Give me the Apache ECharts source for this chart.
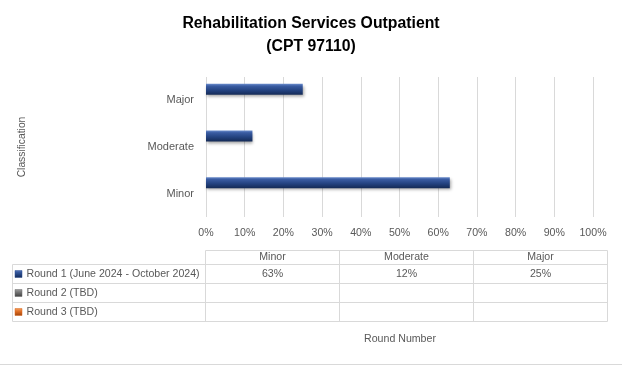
<!DOCTYPE html>
<html>
<head>
<meta charset="utf-8">
<script src="https://cdn.jsdelivr.net/npm/echarts@6/dist/echarts.min.js"></script>
<style>
html,body{margin:0;padding:0;background:#fff;}
#main{width:622px;height:365px;}
</style>
</head>
<body>
<div id="main"></div>
<script>
const titleLines = ['Rehabilitation Services Outpatient', '(CPT 97110)'];
const categories = ['Minor', 'Moderate', 'Major'];
const roundNames = ['Round 1 (June 2024 - October 2024)', 'Round 2 (TBD)', 'Round 3 (TBD)'];
const round1 = [63, 12, 25];
const round2 = [null, null, null];
const round3 = [null, null, null];
const xTicks = [0, 10, 20, 30, 40, 50, 60, 70, 80, 90, 100];
const yAxisTitle = 'Classification';
const tableAxisTitle = 'Round Number';

const FONT = '"Liberation Sans", Arial, sans-serif';
const chart = echarts.init(document.getElementById('main'), null, {renderer: 'canvas'});

const keyColors = ['#2a4a8c', '#6b6b6b', '#d9661c'];
const grads = [
  new echarts.graphic.LinearGradient(0, 0, 0, 1, [
    {offset: 0, color: '#6a8ccc'}, {offset: 0.2, color: '#3a5ca2'},
    {offset: 0.6, color: '#23427f'}, {offset: 1, color: '#142a55'}]),
  new echarts.graphic.LinearGradient(0, 0, 0, 1, [
    {offset: 0, color: '#a0a0a0'}, {offset: 0.5, color: '#6b6b6b'}, {offset: 1, color: '#404040'}]),
  new echarts.graphic.LinearGradient(0, 0, 0, 1, [
    {offset: 0, color: '#f5a060'}, {offset: 0.5, color: '#d9661c'}, {offset: 1, color: '#9a4510'}])
];
const allRounds = [round1, round2, round3];

const gridL = 206, gridR = 593, gridT = 77, gridB = 217;

// data table geometry
const tblLeft = 12.5, colEdges = [205.5, 339.5, 473.5, 607.5];
const rowEdges = [250.5, 264.5, 283.5, 302.5, 321.5];
const lineColor = '#d9d9d9';
const TXT = '10.6px ' + FONT;
const g = [];
g.push({type: 'line', shape: {x1: colEdges[0], y1: rowEdges[0], x2: colEdges[3], y2: rowEdges[0]}, style: {stroke: lineColor, lineWidth: 1}});
for (let i = 1; i < rowEdges.length; i++) {
  g.push({type: 'line', shape: {x1: tblLeft, y1: rowEdges[i], x2: colEdges[3], y2: rowEdges[i]}, style: {stroke: lineColor, lineWidth: 1}});
}
g.push({type: 'line', shape: {x1: tblLeft, y1: rowEdges[1], x2: tblLeft, y2: rowEdges[4]}, style: {stroke: lineColor, lineWidth: 1}});
colEdges.forEach(x => g.push({type: 'line', shape: {x1: x, y1: rowEdges[0], x2: x, y2: rowEdges[4]}, style: {stroke: lineColor, lineWidth: 1}}));
categories.forEach((c, j) => {
  g.push({type: 'text', x: (colEdges[j] + colEdges[j + 1]) / 2, y: (rowEdges[0] + rowEdges[1]) / 2,
    style: {text: c, fill: '#595959', font: TXT, align: 'center', verticalAlign: 'middle'}});
});
roundNames.forEach((name, i) => {
  const cy = (rowEdges[i + 1] + rowEdges[i + 2]) / 2;
  g.push({type: 'rect', shape: {x: 15, y: cy - 3.5, width: 7, height: 7}, style: {fill: grads[i], stroke: keyColors[i], lineWidth: 0.5}});
  g.push({type: 'text', x: 26.5, y: cy, style: {text: name, fill: '#595959', font: TXT, align: 'left', verticalAlign: 'middle'}});
  allRounds[i].forEach((v, j) => {
    if (v == null) return;
    g.push({type: 'text', x: (colEdges[j] + colEdges[j + 1]) / 2, y: cy,
      style: {text: v + '%', fill: '#595959', font: TXT, align: 'center', verticalAlign: 'middle'}});
  });
});
g.push({type: 'text', x: 400, y: 339, style: {text: tableAxisTitle, fill: '#595959', font: TXT, align: 'center', verticalAlign: 'middle'}});
g.push({type: 'line', shape: {x1: 0, y1: 364.5, x2: 622, y2: 364.5}, style: {stroke: lineColor, lineWidth: 1}});
titleLines.forEach((t, i) => {
  g.push({type: 'text', x: 311, y: 24 + i * 23, style: {text: t, fill: '#000', font: 'bold 15.8px ' + FONT, align: 'center', verticalAlign: 'middle'}});
});

const series = roundNames.map((name, i) => ({
  name: name,
  type: 'bar',
  data: allRounds[i].map(v => v == null ? '-' : v),
  barWidth: 11,
  barGap: '0%',
  itemStyle: {color: grads[i], shadowBlur: 3, shadowColor: 'rgba(0,0,0,0.35)', shadowOffsetY: 2, shadowOffsetX: 1},
  silent: true
}));

chart.setOption({
  animation: false,
  grid: {left: gridL, right: 622 - gridR, top: gridT, bottom: 365 - gridB, containLabel: false},
  xAxis: {
    type: 'value', min: xTicks[0], max: xTicks[xTicks.length - 1], interval: xTicks[1] - xTicks[0],
    axisLine: {show: false}, axisTick: {show: false},
    axisLabel: {formatter: '{value}%', color: '#595959', fontSize: 10.6, fontFamily: FONT, margin: 11},
    splitLine: {lineStyle: {color: '#d9d9d9', width: 1}}
  },
  yAxis: {
    type: 'category', data: categories,
    axisLine: {show: false}, axisTick: {show: false},
    axisLabel: {color: '#595959', fontSize: 11, fontFamily: FONT, margin: 12},
    name: yAxisTitle, nameLocation: 'middle', nameRotate: 90, nameGap: 179,
    nameTextStyle: {color: '#595959', fontSize: 10.3, fontFamily: FONT}
  },
  series: series,
  graphic: g
});
</script>
</body>
</html>
